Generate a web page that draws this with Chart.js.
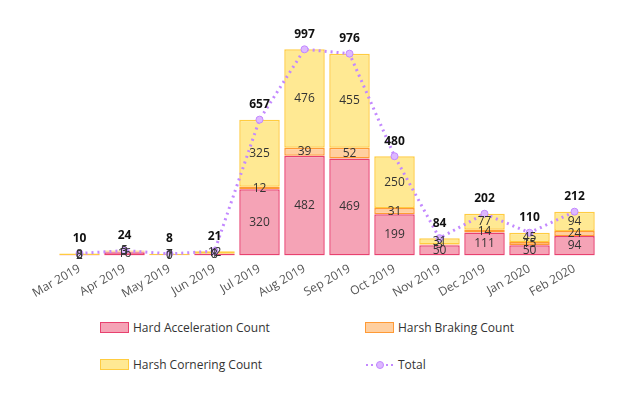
<html lang="en">
<head>
<meta charset="UTF-8">
<title>Driving events</title>
<script src="https://cdn.jsdelivr.net/npm/chart.js"></script>
<style>
  body { margin: 0; background: #fff; font-family: "Open Sans", sans-serif; }
  #wrap { position: relative; width: 625px; height: 307px; }
  #legend { position: absolute; left: 0; top: 300px; width: 625px; font-size: 12px; color: #333; }
  .item { position: absolute; height: 16px; line-height: 16px; white-space: nowrap; }
  .box { display: inline-block; width: 27px; height: 9px; border: 1px solid; vertical-align: middle; margin-right: 4px; margin-top: -2px; }
</style>
</head>
<body>
<div id="wrap"><canvas id="myChart"></canvas></div>
<div id="legend"></div>
<script>
    const months = ['Mar 2019', 'Apr 2019', 'May 2019', 'Jun 2019', 'Jul 2019', 'Aug 2019',
        'Sep 2019', 'Oct 2019', 'Nov 2019', 'Dec 2019', 'Jan 2020', 'Feb 2020'];
    const hardAccel = [2, 16, 1, 8, 320, 482, 469, 199, 50, 111, 50, 94];
    const harshBraking = [0, 3, 0, 1, 12, 39, 52, 31, 3, 14, 15, 24];
    const harshCornering = [8, 5, 7, 12, 325, 476, 455, 250, 31, 77, 45, 94];
    const totals = [10, 24, 8, 21, 657, 997, 976, 480, 84, 202, 110, 212];

    const FONT = '"Open Sans", sans-serif';

    // labels inside bars + bold totals above points
    const valueLabels = {
        id: 'valueLabels',
        afterDatasetsDraw(chart) {
            const ctx = chart.ctx;
            ctx.save();
            ctx.textAlign = 'center';
            ctx.textBaseline = 'middle';
            chart.data.datasets.forEach((ds, i) => {
                const meta = chart.getDatasetMeta(i);
                meta.data.forEach((el, j) => {
                    if (ds.type === 'line') {
                        ctx.font = 'bold 12px ' + FONT;
                        ctx.fillStyle = '#111';
                        ctx.fillText(ds.data[j], el.x, el.y - 15);
                    } else {
                        ctx.font = '12px ' + FONT;
                        ctx.fillStyle = '#333';
                        ctx.fillText(ds.data[j], el.x, (el.y + el.base) / 2);
                    }
                });
            });
            ctx.restore();
        }
    };

    const data = {
        labels: months,
        datasets: [
            {
                type: 'line', label: 'Total', data: totals, stack: 'total', order: 0,
                borderColor: '#c389ff', backgroundColor: '#ddb8ff', borderWidth: 3,
                borderDash: [2, 4], pointRadius: 3.5, pointBorderWidth: 1,
                pointBorderColor: '#c389ff', pointBackgroundColor: '#ddb8ff', tension: 0
            },
            {
                label: 'Hard Acceleration Count', data: hardAccel, stack: 'bars', order: 1,
                backgroundColor: '#f5a3b6', borderColor: '#e8416f', borderWidth: 1.5, borderSkipped: false
            },
            {
                label: 'Harsh Braking Count', data: harshBraking, stack: 'bars', order: 1,
                backgroundColor: '#ffcf9f', borderColor: '#ff9a35', borderWidth: 1.5, borderSkipped: false
            },
            {
                label: 'Harsh Cornering Count', data: harshCornering, stack: 'bars', order: 1,
                backgroundColor: '#ffe993', borderColor: '#ffcc40', borderWidth: 1.5, borderSkipped: false
            }
        ]
    };

    new Chart(document.getElementById('myChart'), {
        type: 'bar',
        data: data,
        options: {
            responsive: true,
            maintainAspectRatio: false,
            animation: false,
            layout: { padding: { top: 28, left: 57, right: 28, bottom: 0 } },
            plugins: { legend: { display: false }, tooltip: { enabled: false } },
            datasets: { bar: { categoryPercentage: 0.9, barPercentage: 1.0 } },
            scales: {
                x: {
                    stacked: true,
                    grid: { display: false, drawTicks: false },
                    border: { display: false },
                    ticks: { color: '#555', font: { size: 12, family: FONT }, minRotation: 30, maxRotation: 30, padding: 6 }
                },
                y: {
                    stacked: true, display: false, min: 0, max: 1100
                }
            }
        },
        plugins: [valueLabels]
    });

    // two-column legend
    const legendItems = [
        { text: 'Hard Acceleration Count', fill: '#f5a3b6', line: '#e8416f', x: 100, y: 20 },
        { text: 'Harsh Braking Count', fill: '#ffcf9f', line: '#ff9a35', x: 365, y: 20 },
        { text: 'Harsh Cornering Count', fill: '#ffe993', line: '#ffcc40', x: 100, y: 57 },
        { text: 'Total', dots: true, x: 365, y: 57 }
    ];
    const leg = document.getElementById('legend');
    legendItems.forEach(it => {
        const d = document.createElement('div');
        d.className = 'item';
        d.style.left = it.x + 'px';
        d.style.top = it.y + 'px';
        if (it.dots) {
            d.innerHTML = '<svg width="29" height="10" style="vertical-align:middle;margin-right:4px;margin-top:-2px">' +
                '<line x1="1" y1="5" x2="28" y2="5" stroke="#c389ff" stroke-width="2" stroke-dasharray="2,3"/>' +
                '<circle cx="15" cy="5" r="3.5" fill="#ddb8ff" stroke="#c389ff"/></svg>' + it.text;
        } else {
            d.innerHTML = '<span class="box" style="background:' + it.fill + ';border-color:' + it.line + '"></span>' + it.text;
        }
        leg.appendChild(d);
    });
</script>
</body>
</html>
